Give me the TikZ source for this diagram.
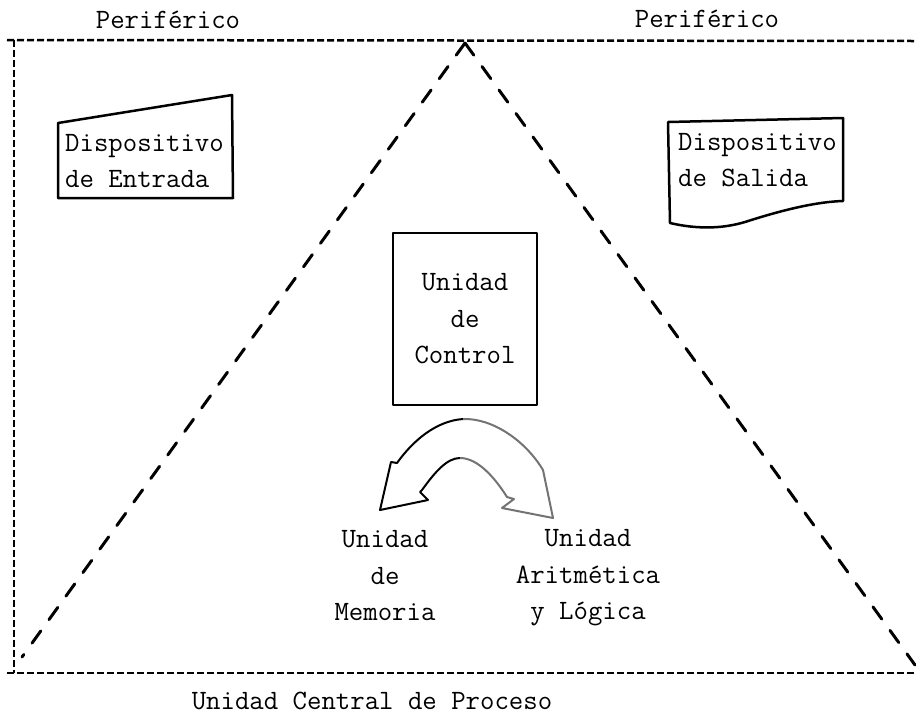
\documentclass[tikz,border=0pt]{standalone}
\usepackage{fontspec}
\begin{document}
\begin{tikzpicture}[x=1pt,y=-1pt,
  lbl/.style={font=\ttfamily\addfontfeatures{FakeBold=0.8}\fontsize{28}{36.5}\selectfont, inner sep=0pt},
  frameline/.style={line width=2.5pt, dash pattern=on 7pt off 3pt},
  legline/.style={line width=3pt, dash pattern=on 15pt off 14pt, line cap=round},
  boxline/.style={line width=2.5pt, line join=round},
  arrowline/.style={line width=2pt, line join=round},
]
\useasboundingbox (0,0) rectangle (916,716);

% frame of the CPU
\coordinate (TL) at (7,40);
\coordinate (TR) at (916,41);
\coordinate (LT) at (14,40);
\coordinate (LB) at (14,673);
\coordinate (BL) at (7,673);
\coordinate (BR) at (916,673);
\draw[frameline] (TL) -- (TR);
\draw[frameline] (LT) -- (LB);
\draw[frameline] (BL) -- (BR);

% triangle
\coordinate (apex) at (465,43);
\coordinate (triL) at (22,657);
\coordinate (triR) at (915,665);
\draw[legline] (apex) -- (triL);
\draw[legline] (apex) -- (triR);

% labels on top / bottom
\node[lbl] (perL) at (168,20) {Periférico};
\node[lbl] (perR) at (707,19) {Periférico};
\node[lbl] (cpu) at (372,701) {Unidad Central de Proceso};

% input device (manual input shape)
\coordinate (e1) at (58,123);
\coordinate (e2) at (232,95);
\coordinate (e3) at (233,198);
\coordinate (e4) at (58,198);
\draw[boxline] (e1) -- (e2) -- (e3) -- (e4) -- cycle;
\node[lbl, align=left, anchor=west] (entrada) at (65,161) {Dispositivo\\de Entrada};

% output device (document shape)
\coordinate (s1) at (668,122);
\coordinate (s2) at (843,118);
\coordinate (s3) at (843,201);
\coordinate (s4) at (670,223);
\draw[boxline] (s1) -- (s2) -- (s3)
  .. controls (810,202) and (770,214) .. (745,222)
  .. controls (725,228) and (700,230) .. (s4) -- cycle;
\node[lbl, align=left, anchor=west] (salida) at (678,160) {Dispositivo\\de Salida};

% control unit
\node[lbl, draw, boxline, minimum width=144pt, minimum height=172pt, align=center] (control) at (465,319) {Unidad\\de\\Control};

% memory and ALU
\node[lbl, align=center] (mem) at (385,576) {Unidad\\de\\Memoria};
\node[lbl, align=center] (alu) at (588,578) {Unidad\\Aritmética\\y Lógica};

% curved double arrow
\coordinate (aOT) at (463,419);
\coordinate (aOL) at (397,463);
\coordinate (aLB1) at (391,462);
\coordinate (aLT) at (380,510);
\coordinate (aLB2) at (428,500);
\coordinate (aLI0) at (420,492);
\coordinate (aIL) at (422,490);
\coordinate (aIT) at (460,458);
\coordinate (aIR) at (507,497);
\coordinate (aRB1) at (514,499);
\coordinate (aRB2) at (502,508);
\coordinate (aRT) at (553,518);
\coordinate (aOR) at (543,470);
\draw[arrowline, black] (aOT) .. controls (435,421) and (412,442) .. (aOL) -- (aLB1) -- (aLT) -- (aLB2) -- (aLI0) -- (aIL)
  .. controls (435,472) and (447,458) .. (aIT);
\draw[arrowline, black!55] (aIT) .. controls (478,458) and (495,478) .. (aIR) -- (aRB1) -- (aRB2) -- (aRT) -- (aOR)
  .. controls (525,440) and (492,418) .. (aOT);
\end{tikzpicture}
\end{document}
